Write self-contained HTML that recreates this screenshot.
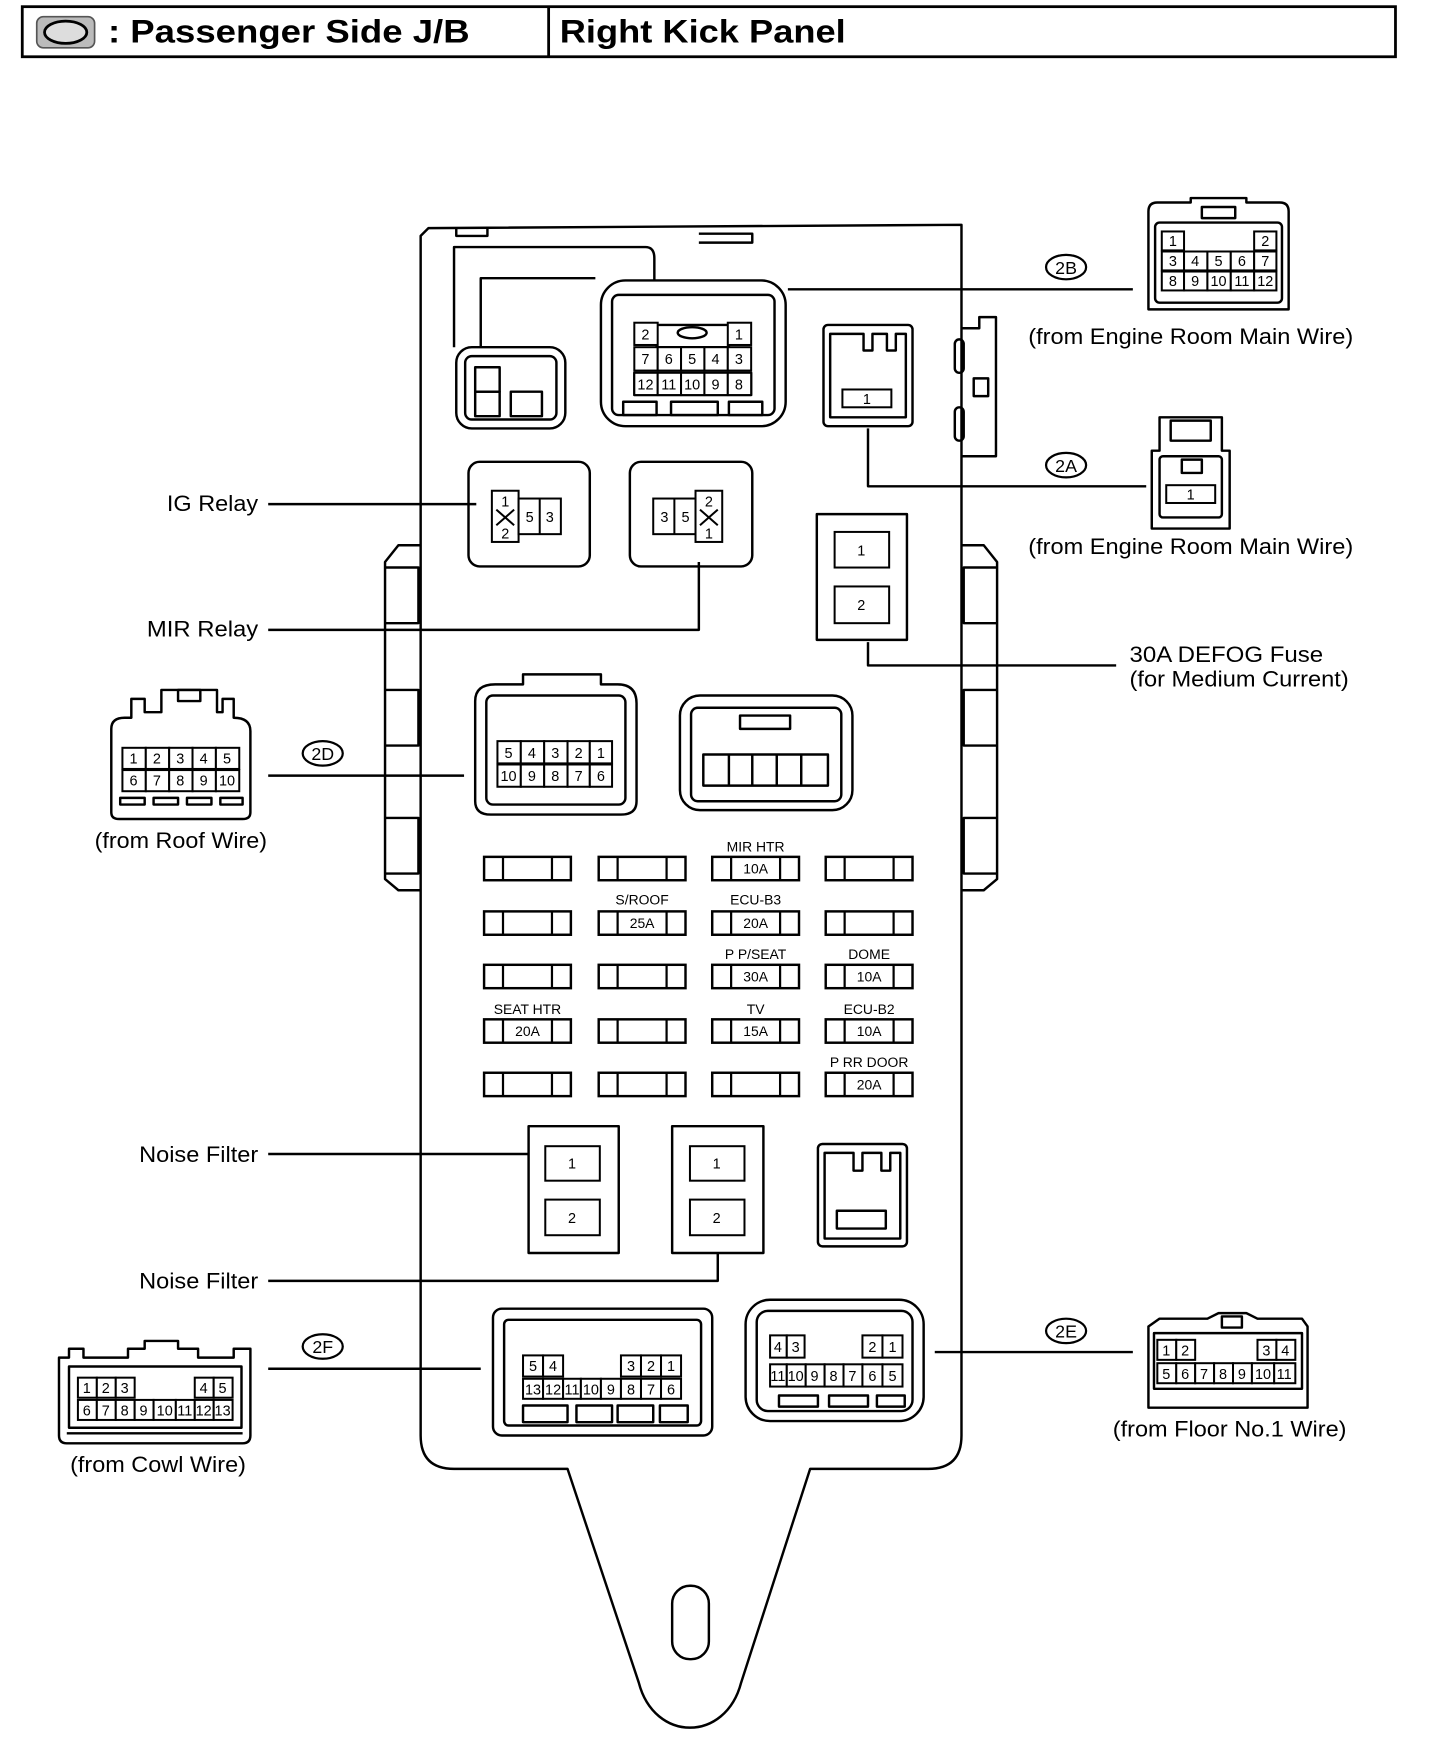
<!DOCTYPE html>
<html><head><meta charset="utf-8"><style>
html,body{margin:0;padding:0;background:#fff}
svg{display:block}
text{font-family:"Liberation Sans",Arial,sans-serif;fill:#000}
</style></head><body>
<svg width="1440" height="1746" viewBox="0 0 1294 1569" xmlns="http://www.w3.org/2000/svg">
<defs>
<g id="fuse"><rect x="0" y="0" width="78" height="21" fill="#fff" stroke="#000" stroke-width="2.2"/><line x1="17" y1="0" x2="17" y2="21" stroke="#000" stroke-width="2"/><line x1="61" y1="0" x2="61" y2="21" stroke="#000" stroke-width="2"/></g>
</defs>
<g fill="none" stroke="#000" stroke-width="2.5">
<rect x="20" y="6" width="1234" height="45"/>
<line x1="493" y1="6" x2="493" y2="51"/>
</g>
<rect x="33" y="15" width="52" height="28" rx="6" fill="#bbb" stroke="#555" stroke-width="1.5"/>
<ellipse cx="59" cy="29" rx="19" ry="10" fill="#ddd" stroke="#000" stroke-width="2.5"/>
<text x="97" y="38" font-size="29" font-weight="bold" textLength="325" lengthAdjust="spacingAndGlyphs">: Passenger Side J/B</text>
<text x="503" y="38" font-size="29" font-weight="bold" textLength="257" lengthAdjust="spacingAndGlyphs">Right Kick Panel</text>

<g fill="none" stroke="#000" stroke-width="2.2" stroke-linejoin="round">
<path d="M378 212 L385 205 L864 202 L864 1290 Q864 1320 834 1320 L728 1320 L666 1512 C652 1566 588 1566 574 1512 L510 1320 L408 1320 Q378 1320 378 1290 Z"/>
<rect x="604" y="1425" width="33" height="66" rx="16"/>
<path d="M410 205 L410 212 L438 212 L438 205"/>
<path d="M628 210 L676 210 L676 218 L628 218"/>
<path d="M378 490 L358 490 L346 505 L346 790 L358 800 L378 800"/>
<path d="M346 510 L376 510 L376 560 L346 560 M346 620 L376 620 L376 670 L346 670 M346 735 L376 735 L376 785 L346 785"/>
<path d="M864 490 L884 490 L896 505 L896 790 L884 800 L864 800"/>
<path d="M896 510 L866 510 L866 560 L896 560 M896 620 L866 620 L866 670 L896 670 M896 735 L866 735 L866 785 L896 785"/>
<path d="M864 295 L880 295 L880 285 L895 285 L895 410 L864 410"/>
<rect x="858" y="305" width="8" height="30" rx="4"/>
<rect x="858" y="366" width="8" height="30" rx="4"/>
<rect x="875" y="340" width="13" height="16"/>
<path d="M408 312 L408 222 L580 222 Q588 222 588 232 L588 252"/>
<path d="M432 312 L432 250 L535 250"/>
<rect x="410" y="312" width="98" height="73" rx="14"/>
<rect x="418" y="320" width="82" height="57" rx="6"/>
<rect x="427" y="330" width="22" height="22"/><rect x="427" y="352" width="22" height="22"/>
<rect x="459" y="352" width="28" height="22"/>
<rect x="540" y="252" width="166" height="131" rx="22"/>
<rect x="550" y="265" width="146" height="108" rx="6"/>
<rect x="570" y="335" width="105" height="20"/>
<rect x="590" y="292" width="65" height="20"/>
<ellipse cx="622" cy="299" rx="13" ry="5"/>
<rect x="560" y="361" width="30" height="12"/><rect x="603" y="361" width="42" height="12"/><rect x="655" y="361" width="30" height="12"/>
<line x1="708" y1="260" x2="1018" y2="260"/>
<rect x="740" y="292" width="80" height="91" rx="4"/>
<path d="M746 300 L746 375 L814 375 L814 300 L805 300 L805 315 L797 315 L797 300 L784 300 L784 315 L776 315 L776 300 Z"/>
<path d="M780 385 L780 437 L1030 437"/>
<rect x="421" y="415" width="109" height="94" rx="10"/>
<rect x="566" y="415" width="110" height="94" rx="10"/>
<line x1="241" y1="453" x2="428" y2="453"/>
<path d="M241 566 L628 566 L628 505"/>
<rect x="734" y="462" width="81" height="113"/>
<path d="M780 577 L780 598 L1003 598"/>
<path d="M427 630 Q427 615 445 615 L470 615 L470 606 L540 606 L540 615 L555 615 Q572 615 572 632 L572 720 Q572 732 558 732 L441 732 Q427 732 427 720 Z"/>
<rect x="437" y="625" width="125" height="98" rx="6"/>
<line x1="241" y1="697" x2="417" y2="697"/>
<rect x="611" y="625" width="155" height="103" rx="18"/>
<rect x="621" y="636" width="135" height="84" rx="6"/>
<rect x="632" y="678" width="112" height="28"/>
<line x1="655" y1="678" x2="655" y2="706"/><line x1="676" y1="678" x2="676" y2="706"/><line x1="698" y1="678" x2="698" y2="706"/><line x1="720" y1="678" x2="720" y2="706"/>
<rect x="665" y="643" width="45" height="12"/>
<rect x="475" y="1012" width="81" height="114"/>
<rect x="604" y="1012" width="82" height="114"/>
<line x1="241" y1="1037" x2="475" y2="1037"/>
<path d="M241 1151 L645 1151 L645 1126"/>
<rect x="735" y="1028" width="80" height="92" rx="4"/>
<path d="M741 1036 L741 1113 L809 1113 L809 1036 L800 1036 L800 1052 L792 1052 L792 1036 L775 1036 L775 1052 L767 1052 L767 1036 Z"/>
<rect x="752" y="1088" width="44" height="16"/>
<rect x="443" y="1176" width="197" height="114" rx="8"/>
<rect x="453" y="1186" width="177" height="95" rx="4"/>
<rect x="470" y="1263" width="40" height="15"/><rect x="518" y="1263" width="32" height="15"/><rect x="555" y="1263" width="32" height="15"/><rect x="593" y="1263" width="25" height="15"/>
<line x1="241" y1="1230" x2="432" y2="1230"/>
<rect x="670" y="1168" width="160" height="109" rx="22"/>
<rect x="680" y="1178" width="140" height="90" rx="10"/>
<rect x="700" y="1254" width="35" height="10"/><rect x="745" y="1254" width="35" height="10"/><rect x="788" y="1254" width="25" height="10"/>
<line x1="840" y1="1215" x2="1018" y2="1215"/>
<path d="M1032 278 L1032 190 Q1032 182 1040 182 L1070 182 L1070 178 L1120 178 L1120 182 L1150 182 Q1158 182 1158 190 L1158 278 Z"/>
<rect x="1038" y="200" width="114" height="72" rx="4"/>
<rect x="1080" y="186" width="30" height="10"/>
<path d="M1035 475 L1035 405 L1042 405 L1042 375 L1098 375 L1098 405 L1105 405 L1105 475 Z"/>
<rect x="1052" y="378" width="36" height="18"/>
<rect x="1042" y="410" width="56" height="55" rx="3"/>
<rect x="1062" y="413" width="18" height="12"/>
<path d="M100 730 L100 655 Q100 645 112 645 L118 645 L118 628 L130 628 L130 640 L145 640 L145 620 L195 620 L195 640 L200 640 L200 628 L210 628 L210 645 Q225 645 225 657 L225 730 Q225 736 218 736 L107 736 Q100 736 100 730 Z"/>
<rect x="160" y="620" width="20" height="10"/>
<rect x="108" y="717" width="22" height="6"/><rect x="138" y="717" width="22" height="6"/><rect x="168" y="717" width="22" height="6"/><rect x="198" y="717" width="20" height="6"/>
<path d="M53 1290 L53 1220 L62 1220 L62 1212 L75 1212 L75 1220 L115 1220 L115 1212 L130 1212 L130 1205 L160 1205 L160 1212 L178 1212 L178 1220 L210 1220 L210 1212 L225 1212 L225 1290 Q225 1297 218 1297 L60 1297 Q53 1297 53 1290 Z"/>
<rect x="62" y="1228" width="155" height="55"/>
<line x1="60" y1="1288" x2="218" y2="1288"/>
<path d="M1032 1265 L1032 1192 L1042 1185 L1085 1185 L1095 1180 L1120 1180 L1130 1185 L1170 1185 L1175 1192 L1175 1265 Z"/>
<rect x="1037" y="1198" width="133" height="50"/>
<rect x="1098" y="1183" width="18" height="10"/>
</g>

<g fill="none" stroke="#000" stroke-width="2"><ellipse cx="958" cy="240" rx="18" ry="11"/><ellipse cx="958" cy="418" rx="18" ry="11"/><ellipse cx="290" cy="677" rx="18" ry="11"/><ellipse cx="290" cy="1210" rx="18" ry="11"/><ellipse cx="958" cy="1196" rx="18" ry="11"/></g>
<g font-size="16" text-anchor="middle"><text x="958" y="246">2B</text><text x="958" y="424">2A</text><text x="290" y="683">2D</text><text x="290" y="1216">2F</text><text x="958" y="1202">2E</text></g>

<g font-size="20" lengthAdjust="spacingAndGlyphs">
<text x="924" y="309" textLength="292" lengthAdjust="spacingAndGlyphs">(from Engine Room Main Wire)</text>
<text x="924" y="498" textLength="292" lengthAdjust="spacingAndGlyphs">(from Engine Room Main Wire)</text>
<text x="150" y="459" textLength="82" lengthAdjust="spacingAndGlyphs">IG Relay</text>
<text x="132" y="572" textLength="100" lengthAdjust="spacingAndGlyphs">MIR Relay</text>
<text x="1015" y="595" textLength="174" lengthAdjust="spacingAndGlyphs">30A DEFOG Fuse</text>
<text x="1015" y="617" textLength="197" lengthAdjust="spacingAndGlyphs">(for Medium Current)</text>
<text x="85" y="762" textLength="155" lengthAdjust="spacingAndGlyphs">(from Roof Wire)</text>
<text x="125" y="1044" textLength="107" lengthAdjust="spacingAndGlyphs">Noise Filter</text>
<text x="125" y="1158" textLength="107" lengthAdjust="spacingAndGlyphs">Noise Filter</text>
<text x="63" y="1323" textLength="158" lengthAdjust="spacingAndGlyphs">(from Cowl Wire)</text>
<text x="1000" y="1291" textLength="210" lengthAdjust="spacingAndGlyphs">(from Floor No.1 Wire)</text>
</g>

<g fill="#fff" stroke="#000" stroke-width="1.8">
<rect x="570" y="290" width="21" height="20"/><rect x="654" y="290" width="21" height="20"/>
<rect x="570" y="312" width="21" height="21"/><rect x="591" y="312" width="21" height="21"/><rect x="612" y="312" width="21" height="21"/><rect x="633" y="312" width="21" height="21"/><rect x="654" y="312" width="21" height="21"/>
<rect x="570" y="335" width="21" height="20"/><rect x="591" y="335" width="21" height="20"/><rect x="612" y="335" width="21" height="20"/><rect x="633" y="335" width="21" height="20"/><rect x="654" y="335" width="21" height="20"/>
<rect x="757" y="350" width="44" height="16"/>
<rect x="1044" y="208" width="20" height="17"/><rect x="1127" y="208" width="20" height="17"/>
<rect x="1044" y="226" width="20" height="17"/><rect x="1064" y="226" width="21" height="17"/><rect x="1085" y="226" width="21" height="17"/><rect x="1106" y="226" width="21" height="17"/><rect x="1127" y="226" width="20" height="17"/>
<rect x="1044" y="244" width="20" height="17"/><rect x="1064" y="244" width="21" height="17"/><rect x="1085" y="244" width="21" height="17"/><rect x="1106" y="244" width="21" height="17"/><rect x="1127" y="244" width="20" height="17"/>
<rect x="1048" y="436" width="44" height="16"/>
<rect x="442" y="441" width="24" height="46"/><rect x="466" y="448" width="38" height="32"/><line x1="485" y1="448" x2="485" y2="480"/>
<rect x="587" y="448" width="38" height="32"/><line x1="606" y1="448" x2="606" y2="480"/><rect x="625" y="441" width="24" height="46"/>
<rect x="750" y="478" width="49" height="32"/><rect x="750" y="527" width="49" height="33"/>
<rect x="447" y="666" width="21" height="20"/><rect x="468" y="666" width="21" height="20"/><rect x="489" y="666" width="21" height="20"/><rect x="510" y="666" width="20" height="20"/><rect x="530" y="666" width="20" height="20"/>
<rect x="447" y="687" width="21" height="20"/><rect x="468" y="687" width="21" height="20"/><rect x="489" y="687" width="21" height="20"/><rect x="510" y="687" width="20" height="20"/><rect x="530" y="687" width="20" height="20"/>
<rect x="110" y="672" width="21" height="19"/><rect x="131" y="672" width="21" height="19"/><rect x="152" y="672" width="21" height="19"/><rect x="173" y="672" width="21" height="19"/><rect x="194" y="672" width="21" height="19"/>
<rect x="110" y="692" width="21" height="19"/><rect x="131" y="692" width="21" height="19"/><rect x="152" y="692" width="21" height="19"/><rect x="173" y="692" width="21" height="19"/><rect x="194" y="692" width="21" height="19"/>
<rect x="490" y="1030" width="49" height="31"/><rect x="490" y="1078" width="49" height="32"/>
<rect x="620" y="1030" width="49" height="31"/><rect x="620" y="1078" width="49" height="32"/>
<rect x="470" y="1218" width="18" height="19"/><rect x="488" y="1218" width="18" height="19"/>
<rect x="558" y="1218" width="18" height="19"/><rect x="576" y="1218" width="18" height="19"/><rect x="594" y="1218" width="18" height="19"/>
<rect x="470" y="1239" width="18" height="18"/><rect x="488" y="1239" width="18" height="18"/><rect x="506" y="1239" width="16" height="18"/><rect x="522" y="1239" width="18" height="18"/><rect x="540" y="1239" width="18" height="18"/><rect x="558" y="1239" width="18" height="18"/><rect x="576" y="1239" width="18" height="18"/><rect x="594" y="1239" width="18" height="18"/>
<rect x="70" y="1238" width="17" height="18"/><rect x="87" y="1238" width="17" height="18"/><rect x="104" y="1238" width="17" height="18"/>
<rect x="175" y="1238" width="17" height="18"/><rect x="192" y="1238" width="17" height="18"/>
<rect x="70" y="1258" width="17" height="18"/><rect x="87" y="1258" width="17" height="18"/><rect x="104" y="1258" width="17" height="18"/><rect x="121" y="1258" width="17" height="18"/><rect x="138" y="1258" width="20" height="18"/><rect x="158" y="1258" width="17" height="18"/><rect x="175" y="1258" width="17" height="18"/><rect x="192" y="1258" width="17" height="18"/>
<rect x="692" y="1200" width="15" height="20"/><rect x="707" y="1200" width="16" height="20"/>
<rect x="775" y="1200" width="18" height="20"/><rect x="793" y="1200" width="18" height="20"/>
<rect x="692" y="1226" width="15" height="20"/><rect x="707" y="1226" width="17" height="20"/><rect x="724" y="1226" width="17" height="20"/><rect x="741" y="1226" width="17" height="20"/><rect x="758" y="1226" width="17" height="20"/><rect x="775" y="1226" width="18" height="20"/><rect x="793" y="1226" width="18" height="20"/>
<rect x="1040" y="1204" width="17" height="18"/><rect x="1057" y="1204" width="17" height="18"/>
<rect x="1130" y="1204" width="17" height="18"/><rect x="1147" y="1204" width="17" height="18"/>
<rect x="1040" y="1225" width="17" height="18"/><rect x="1057" y="1225" width="17" height="18"/><rect x="1074" y="1225" width="17" height="18"/><rect x="1091" y="1225" width="17" height="18"/><rect x="1108" y="1225" width="17" height="18"/><rect x="1125" y="1225" width="20" height="18"/><rect x="1145" y="1225" width="19" height="18"/>
</g>
<g stroke="#000" stroke-width="1.8"><line x1="446" y1="458" x2="462" y2="472"/><line x1="462" y1="458" x2="446" y2="472"/><line x1="629" y1="458" x2="645" y2="472"/><line x1="645" y1="458" x2="629" y2="472"/></g>

<g font-size="13" text-anchor="middle">
<text x="580" y="305">2</text><text x="664" y="305">1</text>
<text x="580" y="327">7</text><text x="601" y="327">6</text><text x="622" y="327">5</text><text x="643" y="327">4</text><text x="664" y="327">3</text>
<text x="580" y="350">12</text><text x="601" y="350">11</text><text x="622" y="350">10</text><text x="643" y="350">9</text><text x="664" y="350">8</text>
<text x="779" y="363">1</text>
<text x="1054" y="221">1</text><text x="1137" y="221">2</text>
<text x="1054" y="239">3</text><text x="1074" y="239">4</text><text x="1095" y="239">5</text><text x="1116" y="239">6</text><text x="1137" y="239">7</text>
<text x="1054" y="257">8</text><text x="1074" y="257">9</text><text x="1095" y="257">10</text><text x="1116" y="257">11</text><text x="1137" y="257">12</text>
<text x="1070" y="449">1</text>
<text x="454" y="455">1</text><text x="454" y="484">2</text><text x="476" y="469">5</text><text x="494" y="469">3</text>
<text x="597" y="469">3</text><text x="616" y="469">5</text><text x="637" y="455">2</text><text x="637" y="484">1</text>
<text x="774" y="499">1</text><text x="774" y="548">2</text>
<text x="457" y="681">5</text><text x="478" y="681">4</text><text x="499" y="681">3</text><text x="520" y="681">2</text><text x="540" y="681">1</text>
<text x="457" y="702">10</text><text x="478" y="702">9</text><text x="499" y="702">8</text><text x="520" y="702">7</text><text x="540" y="702">6</text>
<text x="120" y="686">1</text><text x="141" y="686">2</text><text x="162" y="686">3</text><text x="183" y="686">4</text><text x="204" y="686">5</text>
<text x="120" y="706">6</text><text x="141" y="706">7</text><text x="162" y="706">8</text><text x="183" y="706">9</text><text x="204" y="706">10</text>
<text x="514" y="1050">1</text><text x="514" y="1099">2</text><text x="644" y="1050">1</text><text x="644" y="1099">2</text>
<text x="479" y="1232">5</text><text x="497" y="1232">4</text><text x="567" y="1232">3</text><text x="585" y="1232">2</text><text x="603" y="1232">1</text>
<text x="479" y="1253">13</text><text x="497" y="1253">12</text><text x="514" y="1253">11</text><text x="531" y="1253">10</text><text x="549" y="1253">9</text><text x="567" y="1253">8</text><text x="585" y="1253">7</text><text x="603" y="1253">6</text>
<text x="78" y="1252">1</text><text x="95" y="1252">2</text><text x="112" y="1252">3</text><text x="183" y="1252">4</text><text x="200" y="1252">5</text>
<text x="78" y="1272">6</text><text x="95" y="1272">7</text><text x="112" y="1272">8</text><text x="129" y="1272">9</text><text x="148" y="1272">10</text><text x="166" y="1272">11</text><text x="183" y="1272">12</text><text x="200" y="1272">13</text>
<text x="699" y="1215">4</text><text x="715" y="1215">3</text><text x="784" y="1215">2</text><text x="802" y="1215">1</text>
<text x="699" y="1241">11</text><text x="715" y="1241">10</text><text x="732" y="1241">9</text><text x="749" y="1241">8</text><text x="766" y="1241">7</text><text x="784" y="1241">6</text><text x="802" y="1241">5</text>
<text x="1048" y="1218">1</text><text x="1065" y="1218">2</text><text x="1138" y="1218">3</text><text x="1155" y="1218">4</text>
<text x="1048" y="1239">5</text><text x="1065" y="1239">6</text><text x="1082" y="1239">7</text><text x="1099" y="1239">8</text><text x="1116" y="1239">9</text><text x="1135" y="1239">10</text><text x="1154" y="1239">11</text>
</g>

<use href="#fuse" x="435" y="770"/><use href="#fuse" x="538" y="770"/><use href="#fuse" x="640" y="770"/><use href="#fuse" x="742" y="770"/>
<use href="#fuse" x="435" y="819"/><use href="#fuse" x="538" y="819"/><use href="#fuse" x="640" y="819"/><use href="#fuse" x="742" y="819"/>
<use href="#fuse" x="435" y="867"/><use href="#fuse" x="538" y="867"/><use href="#fuse" x="640" y="867"/><use href="#fuse" x="742" y="867"/>
<use href="#fuse" x="435" y="916"/><use href="#fuse" x="538" y="916"/><use href="#fuse" x="640" y="916"/><use href="#fuse" x="742" y="916"/>
<use href="#fuse" x="435" y="964"/><use href="#fuse" x="538" y="964"/><use href="#fuse" x="640" y="964"/><use href="#fuse" x="742" y="964"/>
<g font-size="12.5" text-anchor="middle">
<text x="679" y="765">MIR HTR</text><text x="679" y="785">10A</text>
<text x="577" y="813">S/ROOF</text><text x="577" y="834">25A</text>
<text x="679" y="813">ECU-B3</text><text x="679" y="834">20A</text>
<text x="679" y="862">P P/SEAT</text><text x="679" y="882">30A</text>
<text x="781" y="862">DOME</text><text x="781" y="882">10A</text>
<text x="474" y="911">SEAT HTR</text><text x="474" y="931">20A</text>
<text x="679" y="911">TV</text><text x="679" y="931">15A</text>
<text x="781" y="911">ECU-B2</text><text x="781" y="931">10A</text>
<text x="781" y="959">P RR DOOR</text><text x="781" y="979">20A</text>
</g>
</svg>
</body></html>
